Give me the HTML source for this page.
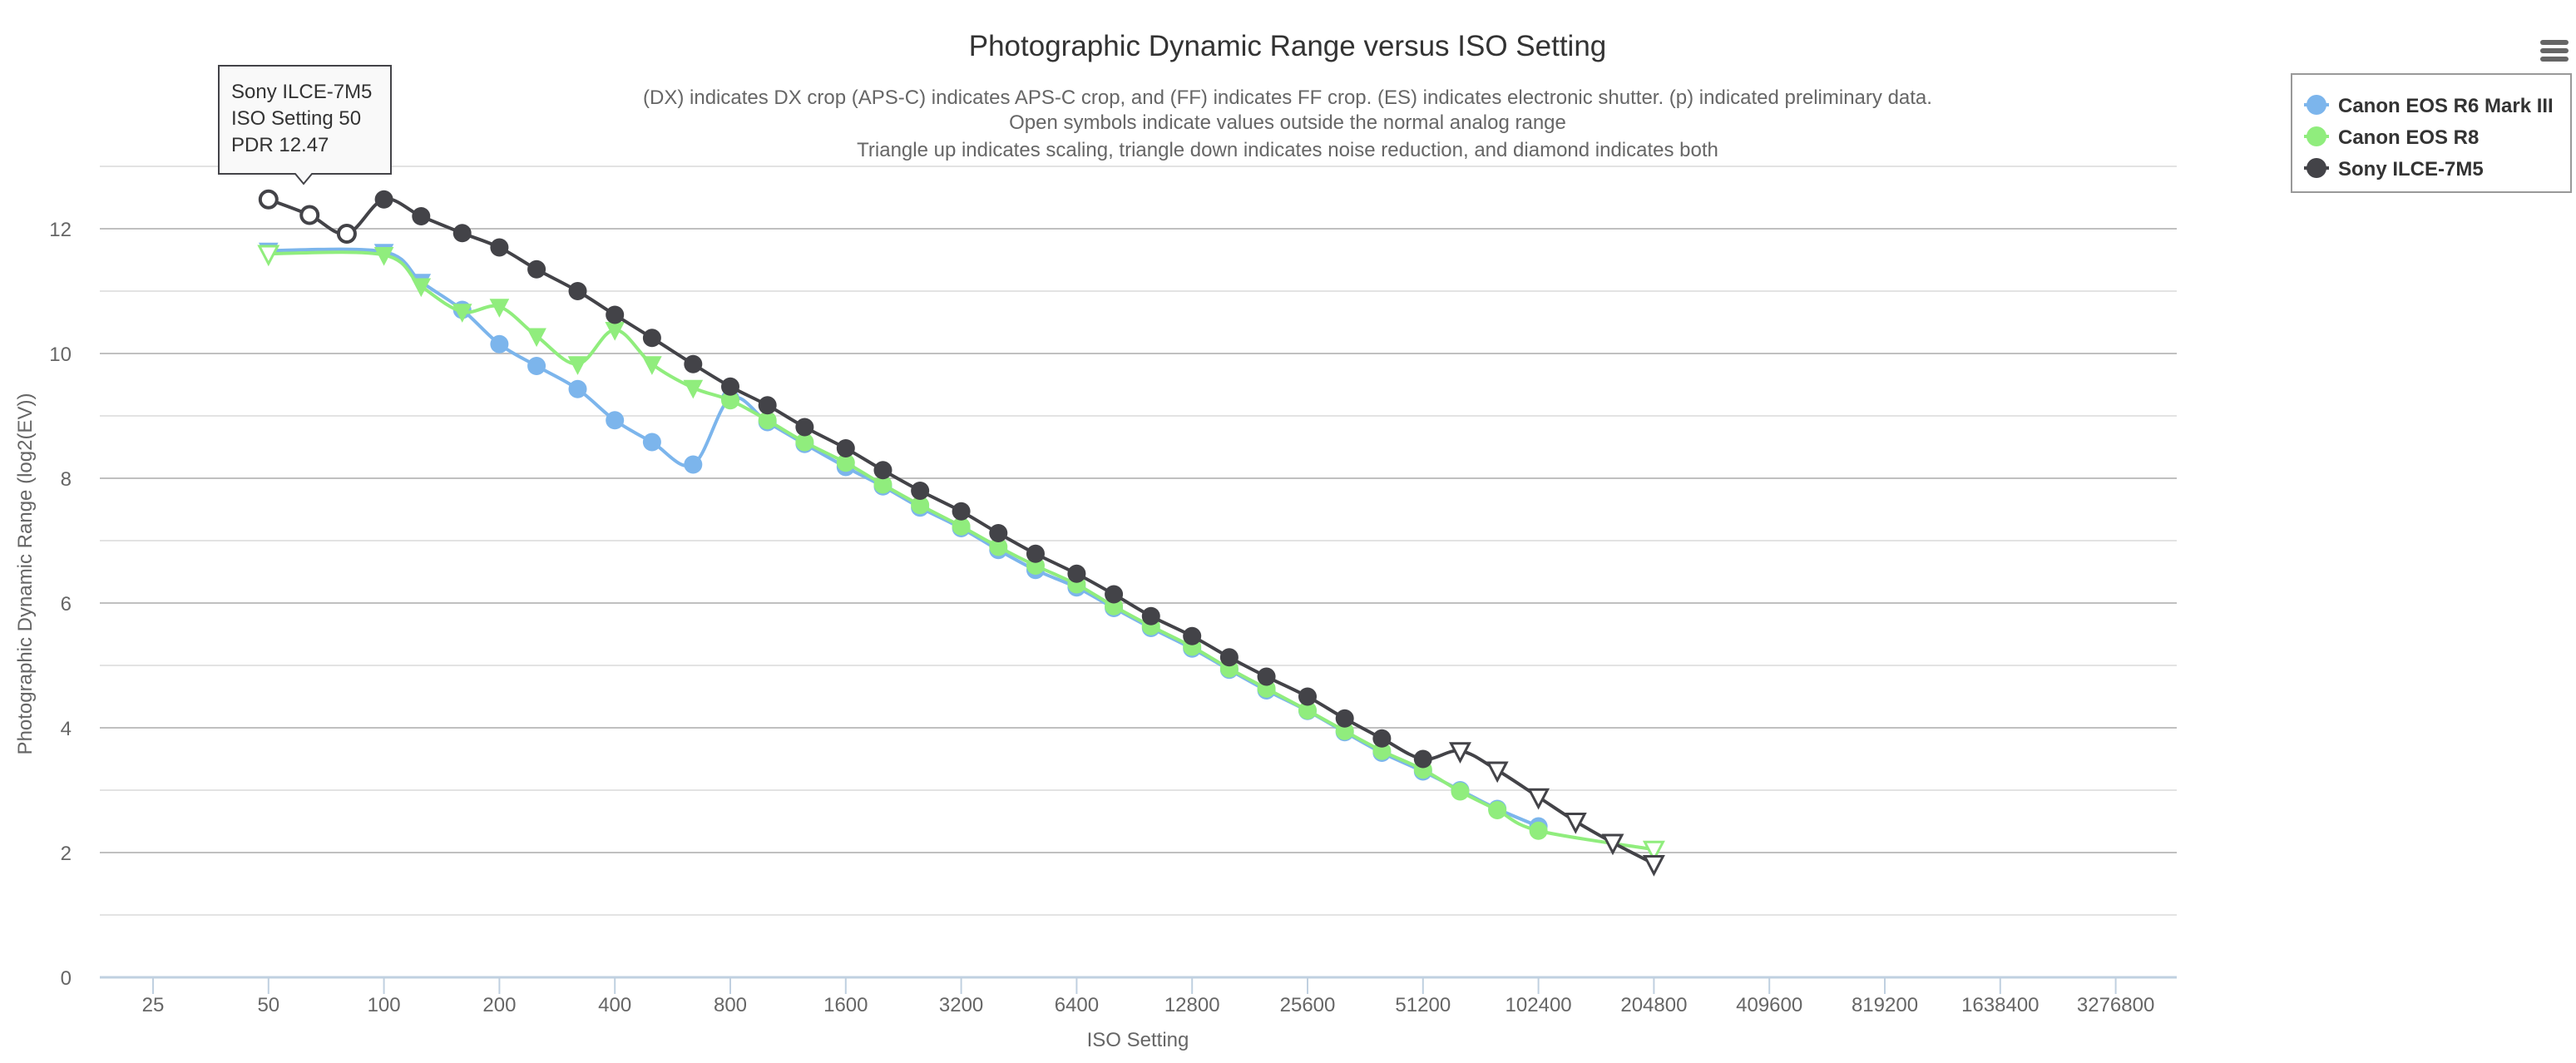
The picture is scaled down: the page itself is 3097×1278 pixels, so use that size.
<!DOCTYPE html>
<html><head><meta charset="utf-8"><style>
html,body{margin:0;padding:0;background:#fff;}
svg{display:block;font-family:"Liberation Sans","DejaVu Sans",sans-serif;}
</style></head><body>
<svg id="c" width="3097" height="1278" viewBox="0 0 3097 1278" xmlns="http://www.w3.org/2000/svg">
<rect width="3097" height="1278" fill="#fff"/>
<text x="1548" y="67" text-anchor="middle" font-size="35" fill="#333">Photographic Dynamic Range versus ISO Setting</text>
<text x="1548" y="125" text-anchor="middle" font-size="24" fill="#666">(DX) indicates DX crop (APS-C) indicates APS-C crop, and (FF) indicates FF crop. (ES) indicates electronic shutter. (p) indicated preliminary data.</text>
<text x="1548" y="155" text-anchor="middle" font-size="24" fill="#666">Open symbols indicate values outside the normal analog range</text>
<text x="1548" y="188" text-anchor="middle" font-size="24" fill="#666">Triangle up indicates scaling, triangle down indicates noise reduction, and diamond indicates both</text>
<g id="grid"></g>
<text x="38" y="690" text-anchor="middle" font-size="24" fill="#666" transform="rotate(-90 38 690)">Photographic Dynamic Range (log2(EV))</text>
<text x="1368" y="1258" text-anchor="middle" font-size="24" fill="#666">ISO Setting</text>
<g id="series"></g>
<!-- legend -->
<rect x="2755" y="89" width="336" height="142" fill="#fff" stroke="#999" stroke-width="2"/>
<g font-size="24" font-weight="bold" fill="#333">
<line x1="2770" y1="126" x2="2800" y2="126" stroke="#7cb5ec" stroke-width="4"/><circle cx="2785" cy="126" r="12" fill="#7cb5ec"/>
<text x="2811" y="135">Canon EOS R6 Mark III</text>
<line x1="2770" y1="164" x2="2800" y2="164" stroke="#90ed7d" stroke-width="4"/><circle cx="2785" cy="164" r="12" fill="#90ed7d"/>
<text x="2811" y="173">Canon EOS R8</text>
<line x1="2770" y1="202" x2="2800" y2="202" stroke="#434348" stroke-width="4"/><circle cx="2785" cy="202" r="12" fill="#434348"/>
<text x="2811" y="211">Sony ILCE-7M5</text>
</g>
<g fill="#666"><rect x="3054" y="48" width="34" height="6" rx="3"/><rect x="3054" y="58" width="34" height="6" rx="3"/><rect x="3054" y="68" width="34" height="6" rx="3"/></g>
<!-- tooltip -->
<path d="M263 79 H470 V209 H375 L365 221 L355 209 H263 Z" fill="#f9f9f9" stroke="#434348" stroke-width="2"/>
<g font-size="24" fill="#333"><text x="278" y="118">Sony ILCE-7M5</text><text x="278" y="150">ISO Setting 50</text><text x="278" y="182">PDR 12.47</text></g>
</svg>
<script>
var NS="http://www.w3.org/2000/svg";
function X(iso){return 184+138.8*Math.log2(iso/25);}
function Y(v){return 1175-75*v;}
function el(t,a,p){var e=document.createElementNS(NS,t);for(var k in a)e.setAttribute(k,a[k]);p.appendChild(e);return e;}
var g=document.getElementById('grid');
for(var i=0;i<=13;i++){var y=Y(i);if(i==0)continue;el('line',{x1:120,x2:2617,y1:y,y2:y,stroke:i%2?'#e3e3e3':'#c0c0c0','stroke-width':2},g);}
for(var i=0;i<=12;i+=2){var t=el('text',{x:86,y:Y(i)+9,'text-anchor':'end','font-size':24,fill:'#666'},g);t.textContent=i;}
el('line',{x1:120,x2:2617,y1:1175,y2:1175,stroke:'#c0d0e0','stroke-width':3},g);
var ticks=[25,50,100,200,400,800,1600,3200,6400,12800,25600,51200,102400,204800,409600,819200,1638400,3276800];
ticks.forEach(function(v){var x=X(v);el('line',{x1:x,x2:x,y1:1175,y2:1195,stroke:'#c0d0e0','stroke-width':2},g);var t=el('text',{x:x,y:1216,'text-anchor':'middle','font-size':24,fill:'#666'},g);t.textContent=v;});
var isos=[50,64,80,100,125,160,200,250,320,400,500,640,800,1000,1250,1600,2000,2500,3200,4000,5000,6400,8000,10000,12800,16000,20000,25600,32000,40000,51200,64000,80000,102400,128000,160000,204800];
var blue=[11.65,null,null,11.63,11.15,10.7,10.15,9.8,9.43,8.93,8.58,8.22,9.28,8.9,8.55,8.18,7.87,7.53,7.2,6.85,6.53,6.25,5.92,5.6,5.27,4.93,4.6,4.27,3.93,3.6,3.3,3.0,2.7,2.42];
var green=[11.6,null,null,11.58,11.08,10.67,10.75,10.28,9.83,10.38,9.83,9.45,9.25,8.93,8.58,8.25,7.9,7.57,7.23,6.9,6.6,6.3,5.95,5.63,5.3,4.95,4.63,4.28,3.95,3.63,3.33,2.98,2.68,2.35,null,null,2.05];
var sony=[12.47,12.22,11.92,12.47,12.2,11.93,11.7,11.35,11.0,10.62,10.25,9.83,9.47,9.17,8.82,8.48,8.13,7.8,7.47,7.12,6.79,6.47,6.14,5.79,5.47,5.13,4.82,4.5,4.15,3.83,3.5,3.63,3.32,2.89,2.5,2.16,1.82];
function pts(d){var p=[];d.forEach(function(v,i){if(v!=null)p.push([X(isos[i]),Y(v),i]);});return p;}
function path(p){var s='M'+p[0][0]+' '+p[0][1];var sm=1.5;
for(var i=1;i<p.length;i++){var a=p[i-1],b=p[i],pa=p[i-2]||a,nb=p[i+1]||b;
var c1=[a[0]+(b[0]-pa[0])/(sm*4),a[1]+(b[1]-pa[1])/(sm*4)];var c2=[b[0]-(nb[0]-a[0])/(sm*4),b[1]-(nb[1]-a[1])/(sm*4)];
s+=' C'+c1[0]+' '+c1[1]+' '+c2[0]+' '+c2[1]+' '+b[0]+' '+b[1];}return s;}
var S=document.getElementById('series');
function tri(x,y,open,col){el('path',{d:'M'+(x-11)+' '+(y-9)+'L'+(x+11)+' '+(y-9)+'L'+x+' '+(y+12)+'Z',fill:open?'#fff':col,stroke:col,'stroke-width':open?3:1},S);}
function draw(d,col,mk){var p=pts(d);el('path',{d:path(p),fill:'none',stroke:col,'stroke-width':4},S);
p.forEach(function(q){var m=mk(q[2]);if(m=='c')el('circle',{cx:q[0],cy:q[1],r:11,fill:col},S);else if(m=='o')el('circle',{cx:q[0],cy:q[1],r:10,fill:'#fff',stroke:col,'stroke-width':4},S);else if(m=='t')tri(q[0],q[1],false,col);else if(m=='to')tri(q[0],q[1],true,col);});}
draw(blue,'#7cb5ec',function(i){return i<=4?'t':'c';});
draw(green,'#90ed7d',function(i){return i==0||i==36?'to':(i<=11?'t':'c');});
draw(sony,'#434348',function(i){return i<=2?'o':(i>=31?'to':'c');});
</script>
</body></html>
